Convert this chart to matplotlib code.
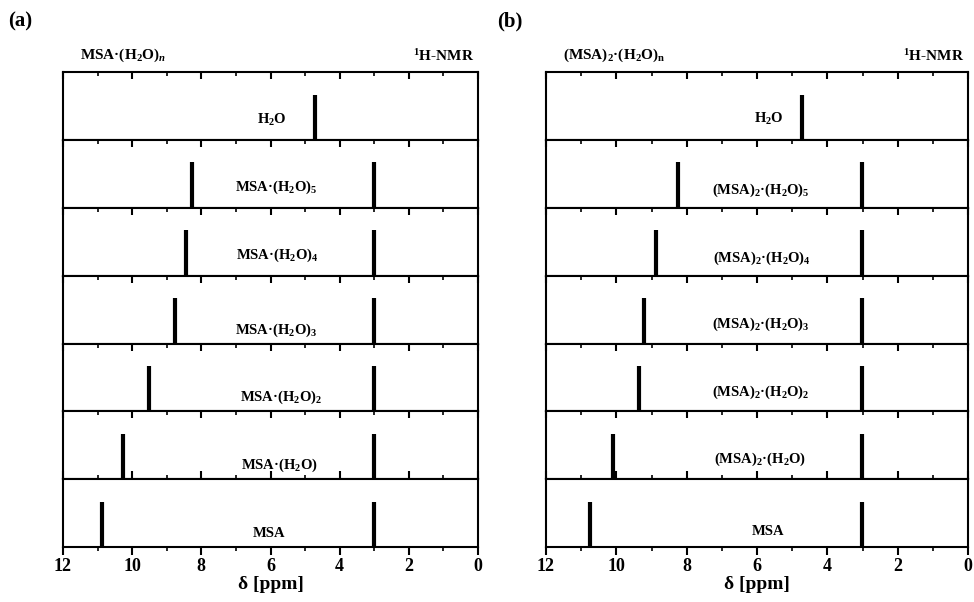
import matplotlib
matplotlib.use("Agg")
import matplotlib.pyplot as plt
from matplotlib.ticker import MultipleLocator

plt.rcParams['font.family'] = ['Liberation Serif', 'DejaVu Serif']
plt.rcParams['font.weight'] = 'bold'
plt.rcParams['mathtext.fontset'] = 'custom'
plt.rcParams['mathtext.rm'] = 'Liberation Serif:bold'
plt.rcParams['mathtext.it'] = 'Liberation Serif:bold:italic'
plt.rcParams['mathtext.bf'] = 'Liberation Serif:bold'

# ---- data ----
labels_a = ['H$_2$O', 'MSA·(H$_2$O)$_5$', 'MSA·(H$_2$O)$_4$', 'MSA·(H$_2$O)$_3$',
            'MSA·(H$_2$O)$_2$', 'MSA·(H$_2$O)', 'MSA']
peaks_a = [[4.71], [8.26, 3.0], [8.45, 3.0], [8.76, 3.0], [9.50, 3.0], [10.27, 3.0], [10.87, 3.0]]
label_x_a = [5.95, 5.85, 5.8, 5.85, 5.7, 5.75, 6.05]
label_y_a = [0.30, 0.30, 0.30, 0.20, 0.20, 0.20, 0.20]

labels_b = ['H$_2$O', '(MSA)$_2$·(H$_2$O)$_5$', '(MSA)$_2$·(H$_2$O)$_4$', '(MSA)$_2$·(H$_2$O)$_3$',
            '(MSA)$_2$·(H$_2$O)$_2$', '(MSA)$_2$·(H$_2$O)', 'MSA']
peaks_b = [[4.73], [8.26, 3.02], [8.86, 3.02], [9.21, 3.02], [9.36, 3.02], [10.10, 3.02], [10.75, 3.02]]
label_x_b = [5.65, 5.9, 5.85, 5.9, 5.9, 5.9, 5.7]
label_y_b = [0.31, 0.26, 0.26, 0.28, 0.28, 0.29, 0.23]

peak_height = 0.67
xticks = [12, 10, 8, 6, 4, 2, 0]

fig = plt.figure(figsize=(9.74, 6.02), dpi=100)

def make_panel(left, right, labels, peaks, lx, ly, title_left, letter, letter_x):
    n = len(labels)
    top, bottom = 0.880, 0.0914
    gs = fig.add_gridspec(n, 1, left=left, right=right, top=top, bottom=bottom, hspace=0)
    axes = []
    for i in range(n):
        ax = fig.add_subplot(gs[i, 0])
        ax.set_xlim(12, 0)
        ax.set_ylim(0, 1)
        ax.set_yticks([])
        ax.set_xticks(xticks)
        ax.xaxis.set_minor_locator(MultipleLocator(1))
        for s in ax.spines.values():
            s.set_linewidth(1.5)
        ax.vlines(peaks[i], 0, peak_height, color='black', lw=3.0)
        ax.text(lx[i], ly[i], labels[i], ha='center', va='center', fontsize=10.5, fontweight='bold')
        if i < n - 1:
            ax.tick_params(axis='x', which='both', bottom=False, top=True, labelbottom=False,
                           direction='in')
            ax.tick_params(axis='x', which='major', length=5, width=1.5)
            ax.tick_params(axis='x', which='minor', length=3, width=1.2)
        else:
            ax.tick_params(axis='x', which='both', bottom=True, top=True, labelbottom=True,
                           direction='out')
            ax.tick_params(axis='x', which='major', length=6, width=1.5, labelsize=13, pad=2)
            ax.tick_params(axis='x', which='minor', length=3, width=1.2)
            for t in ax.get_xticklabels():
                t.set_fontweight('bold')
            ax.set_xlabel('δ [ppm]', fontsize=14, fontweight='bold', labelpad=1)
        axes.append(ax)
    axes[0].text(0.04, 1.12, title_left, transform=axes[0].transAxes, ha='left', va='bottom',
                 fontsize=11, fontweight='bold')
    axes[0].text(0.99, 1.12, '$^1$H-NMR', transform=axes[0].transAxes, ha='right', va='bottom',
                 fontsize=11, fontweight='bold')
    fig.text(letter_x, 0.965, letter, ha='left', va='center', fontsize=15, fontweight='bold')
    return axes

make_panel(63/974, 478/974, labels_a, peaks_a, label_x_a, label_y_a,
           'MSA·(H$_2$O)$_n$', '(a)', 8/974)
make_panel(546/974, 968/974, labels_b, peaks_b, label_x_b, label_y_b,
           '(MSA)$_2$·(H$_2$O)$_\\mathrm{n}$', '(b)', 497/974)

fig.savefig('out.png', dpi=100)
